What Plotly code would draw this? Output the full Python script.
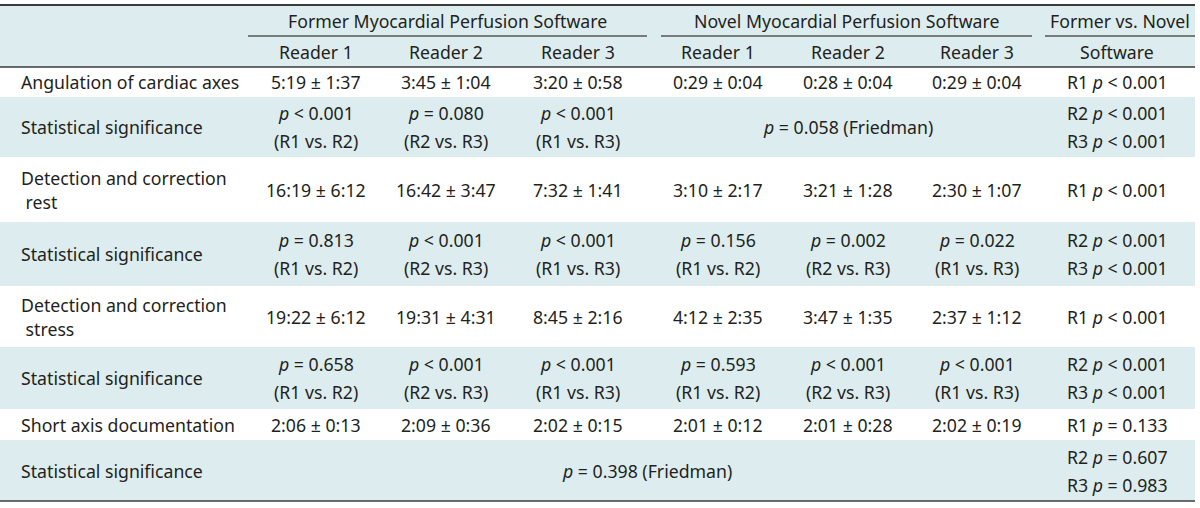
import plotly.graph_objects as go

# ---------------- data ----------------
group_headers = ["Former Myocardial Perfusion Software",
                 "Novel Myocardial Perfusion Software",
                 "Former vs. Novel"]
sub_headers = ["Reader 1", "Reader 2", "Reader 3",
               "Reader 1", "Reader 2", "Reader 3", "Software"]

row_labels = [
    ["Angulation of cardiac axes"],
    ["Statistical significance"],
    ["Detection and correction", "\u00a0rest"],
    ["Statistical significance"],
    ["Detection and correction", "\u00a0stress"],
    ["Statistical significance"],
    ["Short axis documentation"],
    ["Statistical significance"],
]

former_values = [
    ["5:19 ± 1:37", "3:45 ± 1:04", "3:20 ± 0:58"],
    ["<i>p</i> < 0.001|(R1 vs. R2)", "<i>p</i> = 0.080|(R2 vs. R3)", "<i>p</i> < 0.001|(R1 vs. R3)"],
    ["16:19 ± 6:12", "16:42 ± 3:47", "7:32 ± 1:41"],
    ["<i>p</i> = 0.813|(R1 vs. R2)", "<i>p</i> < 0.001|(R2 vs. R3)", "<i>p</i> < 0.001|(R1 vs. R3)"],
    ["19:22 ± 6:12", "19:31 ± 4:31", "8:45 ± 2:16"],
    ["<i>p</i> = 0.658|(R1 vs. R2)", "<i>p</i> < 0.001|(R2 vs. R3)", "<i>p</i> < 0.001|(R1 vs. R3)"],
    ["2:06 ± 0:13", "2:09 ± 0:36", "2:02 ± 0:15"],
    None,
]
novel_values = [
    ["0:29 ± 0:04", "0:28 ± 0:04", "0:29 ± 0:04"],
    None,
    ["3:10 ± 2:17", "3:21 ± 1:28", "2:30 ± 1:07"],
    ["<i>p</i> = 0.156|(R1 vs. R2)", "<i>p</i> = 0.002|(R2 vs. R3)", "<i>p</i> = 0.022|(R1 vs. R3)"],
    ["4:12 ± 2:35", "3:47 ± 1:35", "2:37 ± 1:12"],
    ["<i>p</i> = 0.593|(R1 vs. R2)", "<i>p</i> < 0.001|(R2 vs. R3)", "<i>p</i> < 0.001|(R1 vs. R3)"],
    ["2:01 ± 0:12", "2:01 ± 0:28", "2:02 ± 0:19"],
    None,
]
novel_merged = {1: "<i>p</i> = 0.058 (Friedman)"}
all_merged = {7: "<i>p</i> = 0.398 (Friedman)"}
comparison = [
    "R1 <i>p</i> < 0.001",
    "R2 <i>p</i> < 0.001|R3 <i>p</i> < 0.001",
    "R1 <i>p</i> < 0.001",
    "R2 <i>p</i> < 0.001|R3 <i>p</i> < 0.001",
    "R1 <i>p</i> < 0.001",
    "R2 <i>p</i> < 0.001|R3 <i>p</i> < 0.001",
    "R1 <i>p</i> = 0.133",
    "R2 <i>p</i> = 0.607|R3 <i>p</i> = 0.983",
]
shaded_rows = [False, True, False, True, False, True, False, True]

# ---------------- layout geometry ----------------
W, H = 1200, 508
TABLE_RIGHT = 1195
label_x = 19
col_centers = [316, 446, 578, 718, 848, 977, 1117]
group_spans = [(248, 647), (661, 1032), (1045, TABLE_RIGHT)]
row_edges = [67, 97, 157, 222, 286, 347, 409, 440, 501]
header_top = 5
header_rows_y = [21, 52]
underline_y = 36
line_gap = 28
label_gap = 24

BLUE = "#DDEDEF"
TEXT = "#231F20"
RULE = "#3a3a3a"
FONT = "Noto Sans"
FS = 17.7

fig = go.Figure()
shapes = []
ann = []


def text(x, y, s, anchor="center"):
    ann.append(dict(x=x, y=y, text=s, showarrow=False, xref="x", yref="y",
                    xanchor=anchor, yanchor="middle",
                    font=dict(family=FONT, size=FS, color=TEXT)))


def cell(x, y0, y1, s, gap=line_gap, anchor="center"):
    lines = s.split("|") if isinstance(s, str) else s
    mid = (y0 + y1) / 2
    n = len(lines)
    for i, ln in enumerate(lines):
        text(x, mid + (i - (n - 1) / 2) * gap, ln, anchor)


# header background
shapes.append(dict(type="rect", x0=0, x1=TABLE_RIGHT, y0=header_top, y1=row_edges[0],
                   fillcolor=BLUE, line_width=0, layer="below"))
# row backgrounds
for i, sh in enumerate(shaded_rows):
    if sh:
        shapes.append(dict(type="rect", x0=0, x1=TABLE_RIGHT, y0=row_edges[i], y1=row_edges[i + 1],
                           fillcolor=BLUE, line_width=0, layer="below"))
# rules
for y, w in [(header_top, 2), (row_edges[0], 1.5), (row_edges[-1], 1.5)]:
    shapes.append(dict(type="line", x0=0, x1=TABLE_RIGHT, y0=y, y1=y,
                       line=dict(color=RULE, width=w)))
for (a, b) in group_spans:
    shapes.append(dict(type="line", x0=a, x1=b, y0=underline_y, y1=underline_y,
                       line=dict(color="#555555", width=1.5)))

# headers
for (a, b), g in zip(group_spans, group_headers):
    text((a + b) / 2, header_rows_y[0], g)
for x, s in zip(col_centers, sub_headers):
    text(x, header_rows_y[1], s)

# body
for r in range(len(row_labels)):
    y0, y1 = row_edges[r], row_edges[r + 1]
    cell(label_x, y0, y1, row_labels[r], gap=label_gap, anchor="left")
    if former_values[r] is not None:
        for c, v in enumerate(former_values[r]):
            cell(col_centers[c], y0, y1, v)
    if novel_values[r] is not None:
        for c, v in enumerate(novel_values[r]):
            cell(col_centers[3 + c], y0, y1, v)
    if r in novel_merged:
        cell(col_centers[4], y0, y1, novel_merged[r])
    if r in all_merged:
        cell((col_centers[0] + col_centers[5]) / 2, y0, y1, all_merged[r])
    cell(col_centers[6], y0, y1, comparison[r])

fig.update_layout(
    width=W, height=H, margin=dict(l=0, r=0, t=0, b=0),
    paper_bgcolor="white", plot_bgcolor="white",
    xaxis=dict(range=[0, W], visible=False, fixedrange=True),
    yaxis=dict(range=[H, 0], visible=False, fixedrange=True),
    shapes=shapes, annotations=ann, showlegend=False,
)
fig.write_html("out.html", config={"displayModeBar": False})

# remove the browser's default page margin so the table sits at (0, 0)
with open("out.html", "r", encoding="utf-8") as f:
    html = f.read()
html = html.replace("<head>", "<head><style>html,body{margin:0;padding:0;overflow:hidden;}</style>", 1)
with open("out.html", "w", encoding="utf-8") as f:
    f.write(html)
